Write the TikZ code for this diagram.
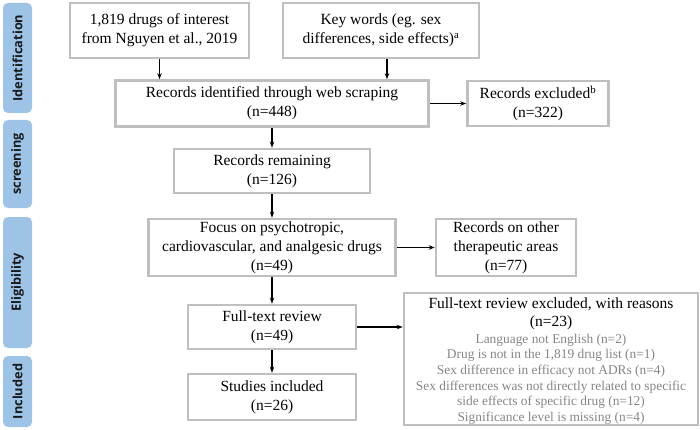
\documentclass[tikz,border=0pt]{standalone}
\usepackage{fontspec}
\setmainfont{Liberation Serif}
\newfontfamily\sidefont{Open Sans}
\usetikzlibrary{arrows.meta}
\definecolor{boxgray}{HTML}{BFBFBF}
\definecolor{notegray}{HTML}{858585}
\definecolor{barblue}{HTML}{9DC3E6}
\definecolor{bartext}{HTML}{1A1A1A}

\begin{document}
\begin{tikzpicture}[x=1pt,y=-1pt,
    box/.style={draw=boxgray, line width=2.6pt, align=center, inner sep=2pt, font=\fontsize{15.5}{19}\selectfont},
    phase/.style={fill=barblue, rounded corners=5pt, rotate=90, minimum height=29pt, inner sep=0pt, text=bartext, font=\sidefont\bfseries\fontsize{12.8}{14}\selectfont},
    arr/.style={-{Stealth[length=6pt,width=4.5pt]}, line width=1.1pt}]
    \useasboundingbox (0,0) rectangle (700,430);

    \node[phase, minimum width=110pt] (ident) at (17.5,58) {Identification};
    \node[phase, minimum width=88pt] (screen) at (17.5,164) {screening};
    \node[phase, minimum width=131pt] (elig) at (17.5,282.5) {Eligibility};
    \node[phase, minimum width=71pt] (incl) at (17.5,391.5) {Included};

    \node[box, minimum width=179pt, minimum height=55pt] (drugs) at (159.5,30.5) {1,819 drugs of interest\\from Nguyen et al., 2019};
    \node[box, minimum width=196pt, minimum height=55pt] (keywords) at (381,30.5) {Key words (eg. sex\\differences, side effects)\textsuperscript{a}};
    \node[box, minimum width=313pt, minimum height=46pt] (scraped) at (272,103.5) {Records identified through web scraping\\(n=448)};
    \node[box, minimum width=141pt, minimum height=45pt] (excluded) at (538,103.5) {Records excluded\textsuperscript{b}\\(n=322)};
    \node[box, minimum width=196pt, minimum height=44pt] (remaining) at (272,171) {Records remaining\\(n=126)};
    \node[box, minimum width=247pt, minimum height=57pt] (focus) at (272,247.5) {Focus on psychotropic,\\cardiovascular, and analgesic drugs\\(n=49)};
    \node[box, minimum width=140pt, minimum height=57pt] (other) at (506,247.5) {Records on other\\therapeutic areas\\(n=77)};
    \node[box, minimum width=168pt, minimum height=44pt] (review) at (272,327) {Full-text review\\(n=49)};
    \node[box, minimum width=168pt, minimum height=46pt] (included) at (272,397) {Studies included\\(n=26)};
    \node[box, minimum width=294pt, minimum height=132pt] (reasons) at (551,359) {};
    \node[align=center, font=\fontsize{15.5}{18}\selectfont] (reasonstitle) at (551,314) {Full-text review excluded, with reasons\\(n=23)};
    \node[align=center, text=notegray, font=\fontsize{13.4}{15.6}\selectfont] (reasonlist) at (551,379) {Language not English (n=2)\\Drug is not in the 1,819 drug list (n=1)\\Sex difference in efficacy not ADRs (n=4)\\Sex differences was not directly related to specific\\side effects of specific drug (n=12)\\Significance level is missing (n=4)};

    \draw[arr] (drugs) -- (drugs |- scraped.north);
    \draw[arr] ([xshift=6pt]keywords.south) -- ([xshift=6pt]keywords.south |- scraped.north);
    \draw[arr] (scraped) -- (excluded);
    \draw[arr] (scraped) -- (remaining);
    \draw[arr] (remaining) -- (focus);
    \draw[arr] (focus) -- (other);
    \draw[arr] (focus) -- (review);
    \draw[arr] (review) -- (review -| reasons.west);
    \draw[arr] (review) -- (included);
\end{tikzpicture}
\end{document}
